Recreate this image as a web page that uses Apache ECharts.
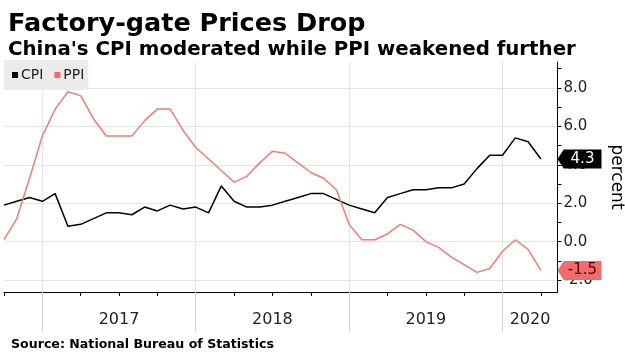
<!DOCTYPE html>
<html><head><meta charset="utf-8">
<script src="https://cdn.jsdelivr.net/npm/echarts@6/dist/echarts.min.js"></script>
<style>html,body{margin:0;padding:0;background:#fff}#c{width:625px;height:358px}</style>
</head><body><div id="c"></div>
<script>
// Monthly observations (plotted at month end)
const months = [
  '2016-09','2016-10','2016-11','2016-12',
  '2017-01','2017-02','2017-03','2017-04','2017-05','2017-06','2017-07','2017-08','2017-09','2017-10','2017-11','2017-12',
  '2018-01','2018-02','2018-03','2018-04','2018-05','2018-06','2018-07','2018-08','2018-09','2018-10','2018-11','2018-12',
  '2019-01','2019-02','2019-03','2019-04','2019-05','2019-06','2019-07','2019-08','2019-09','2019-10','2019-11','2019-12',
  '2020-01','2020-02','2020-03'
];
const cpi = [
  1.9, 2.1, 2.3, 2.1,
  2.5, 0.8, 0.9, 1.2, 1.5, 1.5, 1.4, 1.8, 1.6, 1.9, 1.7, 1.8,
  1.5, 2.9, 2.1, 1.8, 1.8, 1.9, 2.1, 2.3, 2.5, 2.5, 2.2, 1.9,
  1.7, 1.5, 2.3, 2.5, 2.7, 2.7, 2.8, 2.8, 3.0, 3.8, 4.5, 4.5,
  5.4, 5.2, 4.3
];
const ppi = [
  0.1, 1.2, 3.3, 5.5,
  6.9, 7.8, 7.6, 6.4, 5.5, 5.5, 5.5, 6.3, 6.9, 6.9, 5.8, 4.9,
  4.3, 3.7, 3.1, 3.4, 4.1, 4.7, 4.6, 4.1, 3.6, 3.3, 2.7, 0.9,
  0.1, 0.1, 0.4, 0.9, 0.6, 0.0, -0.3, -0.8, -1.2, -1.6, -1.4, -0.5,
  0.1, -0.4, -1.5
];
const yearLabels = ['2017', '2018', '2019', '2020'];
const yTickValues = [-2, 0, 2, 4, 6, 8];
const yMinorValues = [-1, 1, 3, 5, 7, 9];

const Y_MIN = -2.62, Y_MAX = 9.35, X_MAX = 43.3;
const FONT = 'DejaVu Sans';

const quarterTicks = [];
const yearBounds = [];
months.forEach((m, i) => {
  const mm = m.slice(5);
  if (['03', '06', '09', '12'].includes(mm)) quarterTicks.push(i);
  if (mm === '12') yearBounds.push(i);
});
const yearPos = yearLabels.map((y, k) => {
  const a = yearBounds[k];
  const b = k + 1 < yearBounds.length ? yearBounds[k + 1] : X_MAX;
  return (a + b) / 2;
});
function yearFor(v) {
  let best = 0, d = Infinity;
  yearPos.forEach((p, k) => { if (Math.abs(p - v) < d) { d = Math.abs(p - v); best = k; } });
  return yearLabels[best];
}

const lastCpi = cpi[cpi.length - 1];
const lastPpi = ppi[ppi.length - 1];
const arrowPath = 'path://M0,10L7,0L50,0L50,20L7,20Z';

function endTag(value, bg, fg) {
  return {
    symbol: arrowPath,
    symbolSize: [44, 19],
    symbolKeepAspect: false,
    symbolOffset: ['50%', 0],
    itemStyle: { color: bg },
    label: { show: true, position: 'inside', color: fg, fontSize: 15, fontFamily: FONT, offset: [3, 0],
             formatter: p => p.value.toFixed(1) },
    data: [{ coord: [X_MAX, value], value: value }],
    z: 10
  };
}

const chart = echarts.init(document.getElementById('c'), null, { renderer: 'canvas' });
chart.setOption({
  animation: false,
  textStyle: { fontFamily: FONT },
  title: [
    { text: 'Factory-gate Prices Drop', left: 3, top: 6,
      textStyle: { fontFamily: FONT, fontWeight: 'bold', fontSize: 25.5, color: '#000' } },
    { text: "China's CPI moderated while PPI weakened further", left: 3, top: 35,
      textStyle: { fontFamily: FONT, fontWeight: 'bold', fontSize: 19.8, color: '#000' } },
    { text: 'Source: National Bureau of Statistics', left: 6, top: 333,
      textStyle: { fontFamily: FONT, fontWeight: 'bold', fontSize: 12.6, color: '#000' } }
  ],
  legend: {
    left: 4, top: 60, padding: [8, 4, 8, 8], backgroundColor: '#ebebeb',
    itemWidth: 6, itemHeight: 6, itemGap: 11, icon: 'rect',
    textStyle: { fontFamily: FONT, fontSize: 14, color: '#222', padding: [0, 0, 0, -2] },
    data: ['CPI', 'PPI']
  },
  grid: { left: 4, right: 67.5, top: 62, bottom: 66, containLabel: false, outerBoundsMode: 'none' },
  xAxis: [
    { type: 'value', min: 0, max: X_MAX,
      axisLine: { show: true, onZero: false, lineStyle: { color: '#000', width: 1 } },
      axisTick: { show: true, customValues: quarterTicks, length: 4, lineStyle: { color: '#000' } },
      axisLabel: { show: true, customValues: yearPos, formatter: v => yearFor(v), margin: 20,
                   fontSize: 16, color: '#222', fontFamily: FONT },
      splitLine: { show: false } },
    { type: 'value', min: 0, max: X_MAX, position: 'bottom',
      axisLine: { show: false, onZero: false },
      axisTick: { show: true, customValues: yearBounds, length: 40, lineStyle: { color: '#cfcfcf' } },
      axisLabel: { show: false },
      splitLine: { show: true, lineStyle: { color: '#e4e4e4' } } }
  ],
  yAxis: [
    { type: 'value', position: 'right', min: Y_MIN, max: Y_MAX,
      axisLine: { show: true, onZero: false, lineStyle: { color: '#000', width: 1 } },
      axisTick: { show: true, customValues: yTickValues, length: 4, lineStyle: { color: '#000' } },
      axisLabel: { show: true, customValues: yTickValues, formatter: v => v.toFixed(1), margin: 6,
                   fontSize: 15, color: '#222', fontFamily: FONT },
      splitLine: { show: true, lineStyle: { color: '#e4e4e4' } },
      name: 'percent', nameLocation: 'middle', nameRotate: -90, nameGap: 50,
      nameTextStyle: { fontSize: 17, color: '#000', fontFamily: FONT } },
    { type: 'value', position: 'right', min: Y_MIN, max: Y_MAX,
      axisLine: { show: false, onZero: false },
      axisTick: { show: true, customValues: yMinorValues, length: 4, lineStyle: { color: '#000' } },
      axisLabel: { show: false },
      splitLine: { show: false } }
  ],
  series: [
    { name: 'CPI', type: 'line', xAxisIndex: 0, yAxisIndex: 0, symbol: 'none',
      data: months.map((m, i) => [i, cpi[i]]),
      lineStyle: { color: '#000', width: 1.5 }, itemStyle: { color: '#000' },
      markPoint: endTag(lastCpi, '#000', '#fff') },
    { name: 'PPI', type: 'line', xAxisIndex: 0, yAxisIndex: 0, symbol: 'none',
      data: months.map((m, i) => [i, ppi[i]]),
      lineStyle: { color: '#f07c78', width: 1.5 }, itemStyle: { color: '#f06a6a' },
      markPoint: endTag(lastPpi, '#f26b6b', '#4a0a0a') }
  ]
});
</script>
</body></html>
